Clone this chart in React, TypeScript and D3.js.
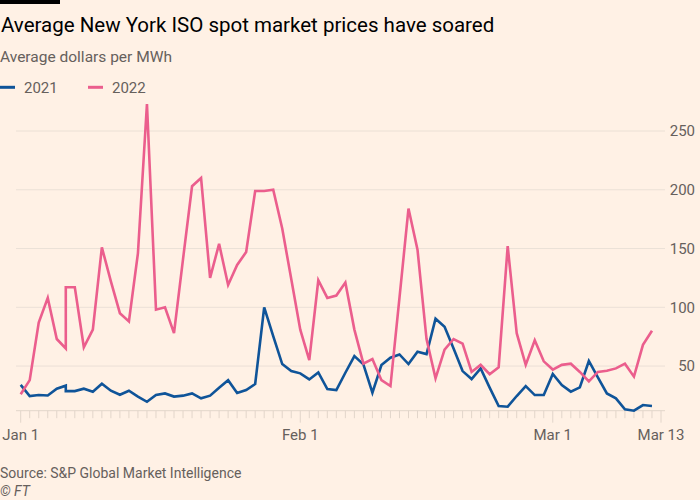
import React from "react";
import * as d3 from "d3";

// Dates (month-day); Jan 6 appears twice in the source data
const dates = [
  "01-01","01-02","01-03","01-04","01-05","01-06","01-06","01-07","01-08","01-09",
  "01-10","01-11","01-12","01-13","01-14","01-15","01-16","01-17","01-18","01-19",
  "01-20","01-21","01-22","01-23","01-24","01-25","01-26","01-27","01-28","01-29",
  "01-30","01-31","02-01","02-02","02-03","02-04","02-05","02-06","02-07","02-08",
  "02-09","02-10","02-11","02-12","02-13","02-14","02-15","02-16","02-17","02-18",
  "02-19","02-20","02-21","02-22","02-23","02-24","02-25","02-26","02-27","02-28",
  "03-01","03-02","03-03","03-04","03-05","03-06","03-07","03-08","03-09","03-10",
  "03-11","03-12",
];

const price2021 = [
  34, 24.5, 25.3, 25, 30.7, 33.3, 28.7, 28.7, 30.7, 28.2,
  35, 29, 25.6, 29, 24, 19.6, 25.3, 26.7, 24, 24.8,
  26.7, 22.5, 24.8, 31.6, 38, 27, 29.6, 34.7, 100, 75.5,
  51.7, 45.7, 43.8, 38.6, 44.6, 30.4, 29.6, 44.3, 58.5, 51.4,
  27.3, 50.9, 57.1, 59.9, 51.7, 62.2, 60.2, 90.3, 83.5, 65,
  45.7, 38.9, 48, 31.6, 16, 15.4, 24.5, 33, 25.3, 25.3,
  43.2, 33.8, 28.2, 31.9, 54.3, 40.3, 26.7, 22.5, 13.1, 12,
  16.8, 16,
];

const price2022 = [
  26, 38, 87, 108, 73, 65, 117, 117, 66, 81,
  151, 122, 95, 88, 146, 273, 98, 100, 78, 141,
  203, 210, 125, 154, 119, 136, 147, 199, 199, 200,
  167, 124, 81, 55, 123, 108, 110, 121, 81, 52,
  56, 38, 33, 108, 184, 149, 73, 39.5, 64, 73,
  69, 45, 51, 43, 49, 152, 78, 51, 72, 54,
  47, 51, 52, 45, 37, 45, 46, 48, 52, 41,
  68, 80,
];

const seriesNames = ["2021", "2022"];
const seriesColors = ["#0f5499", "#eb5e8d"];
const yTicks = [50, 100, 150, 200, 250];
const xLabelDates = ["01-01", "02-01", "03-01", "03-13"];
const xLabels = ["Jan 1", "Feb 1", "Mar 1", "Mar 13"];
const axisEnd = "03-13";

const title = "Average New York ISO spot market prices have soared";
const subtitle = "Average dollars per MWh";
const source = "Source: S&P Global Market Intelligence";

const FONT = "Roboto, 'Noto Sans', sans-serif";

export default function App() {
  const parse = d3.timeParse("%Y-%m-%d");
  const pd = (s: string) => parse("2022-" + s) as Date;

  const x = d3
    .scaleTime()
    .domain([pd(dates[0]), pd(axisEnd)])
    .range([20.7, 661]);

  const ext = d3.extent(price2021.concat(price2022)) as [number, number];
  const y = d3.scaleLinear().domain(ext).range([410.7, 104]);

  const line = d3
    .line<number>()
    .x((_, i) => x(pd(dates[i])))
    .y((v) => y(v));

  const series = [price2021, price2022];
  const dayTicks = d3.timeDay.range(pd(dates[0]), d3.timeDay.offset(pd(axisEnd), 1));
  const majorSet = new Set(xLabelDates.map((s) => +pd(s)));

  const gridX0 = 16;
  const gridX1 = 665;
  const baseY = y(ext[0]);

  return (
    <svg
      width={700}
      height={500}
      style={{ position: "absolute", left: 0, top: 0, background: "#fff1e5" }}
      fontFamily={FONT}
    >
      <rect x={0} y={0} width={700} height={500} fill="#fff1e5" />
      <rect x={0} y={0} width={60} height={4} fill="#000" />
      <text x={1} y={31.5} fontSize={20.5} fill="#000">
        {title}
      </text>
      <text x={0} y={62} fontSize={15.5} fill="#66605c">
        {subtitle}
      </text>

      {seriesNames.map((n, i) => (
        <g key={n} transform={`translate(${i * 88},0)`}>
          <line x1={0} x2={15} y1={87.3} y2={87.3} stroke={seriesColors[i]} strokeWidth={3} />
          <text x={24} y={93} fontSize={15} fill="#66605c">
            {n}
          </text>
        </g>
      ))}

      {yTicks.map((t) => (
        <g key={t}>
          <line x1={gridX0} x2={gridX1} y1={y(t)} y2={y(t)} stroke="#ebe0d6" strokeWidth={1} />
          <text x={695} y={y(t)} dy="0.35em" textAnchor="end" fontSize={15} fill="#66605c">
            {t}
          </text>
        </g>
      ))}

      <line x1={gridX0} x2={gridX1} y1={baseY} y2={baseY} stroke="#e2d5ca" strokeWidth={1} />
      {dayTicks.map((d) => {
        const major = majorSet.has(+d);
        return (
          <line
            key={+d}
            x1={x(d)}
            x2={x(d)}
            y1={baseY}
            y2={baseY + (major ? 12 : 7.5)}
            stroke="#e2d5ca"
            strokeWidth={1}
          />
        );
      })}
      {xLabelDates.map((s, i) => (
        <text key={s} x={x(pd(s))} y={440} textAnchor="middle" fontSize={15} fill="#66605c">
          {xLabels[i]}
        </text>
      ))}

      {series.map((vals, i) => (
        <path
          key={seriesNames[i]}
          d={line(vals) || ""}
          fill="none"
          stroke={seriesColors[i]}
          strokeWidth={2.6}
        />
      ))}

      <text x={0} y={478} fontSize={14} fill="#66605c">
        {source}
      </text>
      <text x={0} y={496} fontSize={14} fontStyle="italic" fill="#66605c">
        © FT
      </text>
    </svg>
  );
}
